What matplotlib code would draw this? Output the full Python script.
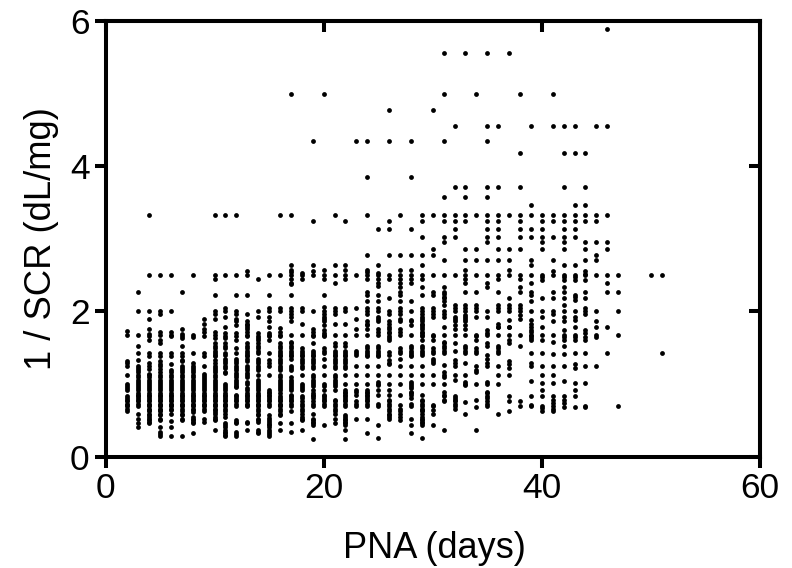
import matplotlib
matplotlib.use('Agg')
import matplotlib.pyplot as plt

plt.rcParams['font.family'] = ['Liberation Sans', 'DejaVu Sans']

# 1/SCR read column by column, one list per day of PNA
d02 = [1.73,1.68,1.32,1.29,1.25,1.12,1.0,.97,.94,.92,.83,.80,.78,.76,.73,.71,.69,.66,.63]
d03 = [2.27,2.0,1.67,1.52,1.43,1.33,1.25,1.22,1.19,1.16,1.12,1.09,1.06,1.03,1.0,.97,.94,.91,.88,.85,.83,.80,.78,.76,.73,.69,.59,.52,.46,.40]
d04 = [2.5,2.0,1.89,1.76,1.69,1.66,1.61,1.43,1.39,1.29,1.25,1.2,1.14,1.12,1.09,1.06,1.03,1.0,.97,.94,.91,.88,.85,.83,.80,.78,.76,.73,.71,.69,.66,.64,.62,.59,.57,.55,.52,.50,.48,.46]
d05 = [2.5,2.0,1.96,1.72,1.67,1.6,1.56,1.43,1.39,1.31,1.27,1.25,1.2,1.17,1.12,1.1,1.05,1.03,1.0,.97,.94,.91,.88,.85,.83,.80,.78,.76,.73,.71,.69,.66,.64,.62,.59,.57,.52,.50,.40,.34,.31,.28]
d06 = [2.5,2.0,1.72,1.68,1.66,1.43,1.38,1.27,1.19,1.16,1.12,1.09,1.06,1.03,1.0,.97,.94,.91,.88,.85,.83,.80,.78,.76,.73,.71,.69,.66,.64,.59,.49,.41,.28]
d07 = [2.27,1.76,1.69,1.66,1.63,1.52,1.43,1.38,1.33,1.31,1.25,1.22,1.19,1.16,1.12,1.09,1.06,1.03,1.0,.97,.94,.91,.87,.85,.83,.80,.78,.76,.73,.71,.69,.66,.62,.59,.57,.52,.50,.28]
d08 = [2.5,1.67,1.64,1.43,1.29,1.25,1.22,1.19,1.16,1.12,1.09,1.06,1.03,1.0,.97,.94,.91,.88,.85,.83,.80,.78,.76,.73,.71,.69,.66,.64,.61,.55,.52,.50,.48,.46,.32]
d09 = [1.9,1.83,1.76,1.72,1.66,1.43,1.38,1.25,1.14,1.11,1.08,1.05,1.02,1.0,.97,.94,.91,.88,.85,.83,.80,.78,.76,.73,.71,.69,.66,.62,.52,.48]
d10 = [2.5,2.44,2.22,2.0,1.96,1.89,1.72,1.68,1.63,1.56,1.52,1.49,1.46,1.43,1.40,1.38,1.33,1.29,1.25,1.22,1.19,1.16,1.12,1.09,1.06,1.03,1.0,.97,.94,.91,.88,.85,.83,.80,.78,.76,.73,.71,.69,.66,.64,.61,.59,.55,.52,.50,.37]
d11 = [2.5,2.04,2.0,1.92,1.79,1.70,1.66,1.63,1.56,1.52,1.49,1.43,1.40,1.35,1.31,1.29,1.25,1.22,1.17,1.15,1.0,.97,.94,.91,.88,.85,.83,.80,.78,.76,.73,.71,.69,.66,.62,.59,.55,.46,.43,.40,.37,.34,.32,.30,.28]
d12 = [2.5,2.22,2.0,1.96,1.89,1.86,1.81,1.70,1.66,1.61,1.49,1.43,1.35,1.31,1.29,1.25,1.22,1.19,1.15,1.12,1.09,1.06,1.03,1.0,.97,.96,.85,.83,.80,.78,.76,.73,.69,.50,.48,.46,.34,.31,.28]
d13 = [2.56,2.5,2.22,1.96,1.86,1.83,1.81,1.78,1.76,1.72,1.68,1.66,1.56,1.52,1.49,1.46,1.43,1.40,1.38,1.35,1.31,1.25,1.22,1.19,1.15,1.12,1.09,1.03,1.0,.94,.91,.88,.85,.83,.80,.78,.76,.73,.71,.69,.48,.46,.37]
d14 = [2.44,2.0,1.92,1.70,1.66,1.63,1.61,1.56,1.52,1.49,1.46,1.43,1.35,1.31,1.29,1.25,1.22,1.19,1.12,1.05,1.03,1.0,.97,.94,.91,.88,.85,.83,.80,.78,.76,.73,.71,.69,.66,.62,.59,.57,.52,.50,.48,.37,.34,.32]
d15 = [2.5,2.22,2.04,2.0,1.92,1.86,1.79,1.70,1.68,1.66,1.61,1.43,1.33,1.29,1.25,1.12,.92,.89,.87,.85,.83,.80,.78,.76,.73,.69,.57,.53,.50,.48,.45,.43,.40,.37,.34,.31,.28]
d16 = [2.5,2.04,2.0,1.77,1.72,1.68,1.66,1.56,1.52,1.49,1.46,1.43,1.40,1.38,1.35,1.31,1.29,1.25,1.22,1.19,1.12,1.10,1.05,1.03,1.0,.97,.94,.91,.87,.83,.80,.78,.76,.73,.71,.69,.66,.62,.59,.57,.46,.37]
d17 = [2.64,2.57,2.54,2.5,2.44,2.39,2.38,2.22,2.04,2.0,1.96,1.92,1.86,1.68,1.58,1.56,1.52,1.49,1.46,1.43,1.40,1.38,1.35,1.25,1.22,1.19,1.10,1.06,1.03,1.0,.97,.94,.92,.85,.83,.80,.78,.76,.73,.69,.62,.46,.34]
d18 = [2.53,2.5,2.44,2.04,2.0,1.82,1.68,1.49,1.46,1.43,1.40,1.38,1.35,1.31,1.29,1.25,1.22,1.12,1.0,.97,.94,.92,.83,.80,.76,.73,.69,.66,.62,.59,.55,.52,.50,.36]
d19 = [2.64,2.55,2.5,2.0,1.76,1.72,1.68,1.66,1.56,1.46,1.43,1.40,1.38,1.35,1.31,1.29,1.25,1.22,1.12,1.09,1.06,1.03,1.0,.97,.92,.88,.85,.83,.80,.76,.73,.69,.59,.52,.50,.48,.46,.43,.235]
d20 = [2.57,2.5,2.44,2.22,2.06,2.0,1.96,1.92,1.89,1.86,1.81,1.74,1.70,1.68,1.66,1.49,1.46,1.43,1.35,1.25,1.12,1.0,.97,.92,.85,.83,.80,.78,.76,.73,.69,.44]
d21 = [2.64,2.5,2.39,2.04,2.0,1.96,1.82,1.68,1.56,1.52,1.46,1.43,1.40,1.38,1.35,1.31,1.29,1.25,1.22,1.12,1.09,1.06,1.03,1.0,.97,.92,.78,.76,.73,.69,.66,.62,.59,.52,.46]
d22 = [2.64,2.57,2.5,2.44,2.04,2.0,1.82,1.68,1.56,1.52,1.46,1.43,1.40,1.38,1.35,1.31,1.29,1.25,1.22,1.12,1.0,.92,.89,.87,.85,.83,.80,.78,.76,.73,.69,.57,.55,.52,.50,.48,.46,.43,.37,.235]
d23 = [2.5,2.04,1.89,1.76,1.68,1.46,1.43,1.40,1.25,1.12,1.0,.92,.89,.85,.76,.73,.69,.52]
d24 = [2.78,2.57,2.54,2.5,2.44,2.27,2.22,2.14,2.04,2.0,1.96,1.86,1.83,1.81,1.76,1.68,1.52,1.49,1.46,1.43,1.40,1.38,1.25,1.12,1.0,.92,.89,.87,.85,.83,.80,.78,.76,.73,.69,.51,.32]
d25 = [2.64,2.53,2.5,2.44,2.39,2.35,2.22,2.14,2.04,2.0,1.92,1.89,1.86,1.75,1.72,1.68,1.52,1.49,1.46,1.43,1.40,1.38,1.25,1.12,1.03,1.0,.99,.92,.85,.73,.69,.43,.26]
d26 = [2.78,2.5,2.44,2.18,2.0,1.96,1.86,1.83,1.79,1.76,1.72,1.70,1.66,1.63,1.61,1.44,1.40,1.33,1.29,1.27,1.12,1.0,.92,.85,.78,.76,.73,.69,.66,.62,.59,.57,.55,.52]
d27 = [2.78,2.57,2.5,2.44,2.39,2.33,2.27,2.22,2.14,2.04,2.0,1.96,1.90,1.86,1.75,1.72,1.68,1.49,1.46,1.43,1.35,1.25,1.12,1.0,.85,.71,.66,.62,.59,.55,.50]
d28 = [2.78,2.57,2.5,2.44,2.39,2.14,2.0,1.88,1.86,1.81,1.68,1.52,1.49,1.46,1.43,1.40,1.38,1.25,1.12,1.03,1.0,.97,.94,.89,.87,.85,.80,.73,.69,.52,.43,.32]
d29 = [2.78,2.64,2.5,2.44,2.33,2.22,2.04,2.0,1.96,1.92,1.89,1.86,1.83,1.81,1.78,1.76,1.72,1.70,1.68,1.66,1.61,1.52,1.49,1.46,1.43,1.40,1.25,1.12,1.0,.85,.78,.76,.73,.69,.66,.64,.62,.59,.55,.52,.50,.48,.46,.43,.26]
d30 = [2.86,2.78,2.5,2.27,2.22,2.04,2.0,1.96,1.92,1.68,1.66,1.61,1.49,1.46,1.43,1.35,1.31,1.29,1.12,1.0,.71,.69,.64,.59,.43]
d31 = [2.95,2.71,2.5,2.33,2.27,2.24,2.2,2.18,2.14,2.09,2.0,1.96,1.92,1.79,1.68,1.58,1.56,1.52,1.49,1.46,1.43,1.26,1.17,1.12,1.10,1.0,.89,.85,.83,.78,.76,.37]
d32 = [2.5,2.09,2.04,2.0,1.92,1.89,1.86,1.81,1.76,1.68,1.56,1.46,1.33,1.29,1.25,1.12,1.05,.83,.80,.78,.76,.73,.69,.66]
d33 = [2.86,2.71,2.57,2.5,2.44,2.39,2.27,2.09,2.04,2.0,1.95,1.92,1.89,1.86,1.81,1.76,1.68,1.52,1.49,1.46,1.43,1.29,1.12,1.03,1.0,.99,.75,.59]
d34 = [2.86,2.71,2.5,2.27,2.09,2.04,2.0,1.92,1.68,1.66,1.61,1.49,1.46,1.43,1.25,1.19,1.17,1.0,.78,.68,.37]
d35 = [2.95,2.71,2.5,2.39,2.33,2.0,1.92,1.74,1.70,1.68,1.56,1.52,1.40,1.35,1.29,1.25,1.03,1.0,.89,.87,.83,.80,.76,.73,.69]
d36 = [2.86,2.71,2.5,2.44,2.27,2.09,2.04,2.0,1.83,1.79,1.78,1.68,1.52,1.49,1.46,1.43,1.25,1.12,1.0,.59]
d37 = [2.86,2.71,2.57,2.5,2.18,2.09,2.04,2.0,1.88,1.79,1.78,1.68,1.61,1.56,1.31,1.27,1.22,1.12,.84,.76,.63]
d38 = [2.86,2.5,2.44,2.33,2.27,2.09,2.04,2.0,1.95,1.9,1.68,1.52,.76,.69]
d39 = [2.71,2.64,2.5,2.39,2.27,2.22,2.14,2.0,1.88,1.83,1.79,1.74,1.72,1.68,1.66,1.63,1.60,1.43,1.29,1.25,1.04,.83,.71,.69]
d40 = [2.95,2.86,2.5,2.47,2.43,2.18,2.0,1.92,1.79,1.68,1.61,1.42,1.25,1.12,1.01,.92,.83,.70,.67,.63]
d41 = [2.71,2.56,2.5,2.27,2.18,2.0,1.97,1.86,1.68,1.58,1.41,1.25,1.12,1.01,.83,.78,.74,.70,.66,.63]
d42 = [2.95,2.86,2.64,2.5,2.47,2.43,2.33,2.27,2.18,2.09,2.0,1.92,1.86,1.74,1.68,1.64,1.61,1.52,1.41,1.25,1.04,.83,.78,.74,.68]
d43 = [2.64,2.5,2.47,2.43,2.23,2.2,2.16,2.0,1.92,1.88,1.79,1.68,1.64,1.61,1.42,1.27,1.22,1.01,.92,.83,.68]
d44 = [2.95,2.86,2.71,2.56,2.52,2.5,2.43,2.27,2.18,2.04,2.0,1.97,1.74,1.70,1.64,1.61,1.42,1.24,1.01,.70,.68]
d45 = [2.95,2.78,2.71,2.5,2.0,1.86,1.79,1.68,1.64,1.25]
d46 = [2.95,2.86,2.5,2.39,2.27,1.79,1.43]
d47 = [2.5,2.27,2.0,1.68,.7]
d50 = [2.5]
d51 = [2.5,1.43]

# upper rows: same level of 1/SCR at several days
row_589 = [46]
row_556 = [31,33,35,37]
row_500 = [17,20,31,34,38,41]
row_477 = [26,30]
row_456 = [32,35,36,39,41,42,43,45,46]
row_435 = [19,23,24,26,28,31,35]
row_418 = [38,42,43,44]
row_385 = [24,28]
row_371 = [32,33,35,36,38,42,44]
row_357 = [31,33,35]
row_346 = [39,43,44]
row_333 = [4,10,11,12,16,17,21,24,27,29,30,31,32,33,34,35,36,37,38,39,40,41,42,43,44,45,46]
row_324 = [19,22,26,29,31,32,33,35,36,38,40,41,42,43,44,45]
row_314 = [25,26,28,32,35,36,38,39,40,42,43]
row_303 = [29,31,32,35,36,38,39,40,41,42,43]

columns = {2:d02,3:d03,4:d04,5:d05,6:d06,7:d07,8:d08,9:d09,10:d10,11:d11,12:d12,13:d13,14:d14,
           15:d15,16:d16,17:d17,18:d18,19:d19,20:d20,21:d21,22:d22,23:d23,24:d24,25:d25,26:d26,
           27:d27,28:d28,29:d29,30:d30,31:d31,32:d32,33:d33,34:d34,35:d35,36:d36,37:d37,38:d38,
           39:d39,40:d40,41:d41,42:d42,43:d43,44:d44,45:d45,46:d46,47:d47,50:d50,51:d51}
rows = {5.89:row_589,5.56:row_556,5.0:row_500,4.77:row_477,4.56:row_456,4.35:row_435,4.18:row_418,
        3.85:row_385,3.71:row_371,3.57:row_357,3.46:row_346,3.33:row_333,3.24:row_324,3.14:row_314,
        3.03:row_303}

x = []
y = []
for day in columns:
    for v in columns[day]:
        x.append(day)
        y.append(v)
for level in rows:
    for day in rows[level]:
        x.append(day)
        y.append(level)

fig = plt.figure(figsize=(7.92, 5.68), dpi=100)
ax = fig.add_axes([105.5/792, (568-456.5)/568, (760-105.5)/792, (456.5-21)/568])
ax.scatter(x, y, s=12, c='k', marker='o', linewidths=0, clip_on=False, zorder=3)
ax.set_xlim(0, 60)
ax.set_ylim(0, 6)
ax.set_xticks([0, 20, 40, 60])
ax.set_yticks([0, 2, 4, 6])
ax.tick_params(length=8, width=2.9, labelsize=25.5, pad=3.5)
for s in ax.spines.values():
    s.set_linewidth(2.9)

# mirrored ticks on top and right point inward
top = ax.secondary_xaxis('top')
top.set_xticks([0, 20, 40, 60])
top.tick_params(direction='in', length=8, width=2.9, labeltop=False)
right = ax.secondary_yaxis('right')
right.set_yticks([0, 2, 4, 6])
right.tick_params(direction='in', length=8, width=2.9, labelright=False)
top.spines['top'].set_linewidth(2.9)
right.spines['right'].set_linewidth(2.9)

ax.set_xlabel('PNA (days)', fontsize=26, labelpad=18.5, x=0.503)
ax.set_ylabel('1 / SCR (dL/mg)', fontsize=26.2, labelpad=7.5)
fig.savefig('out.png', dpi=100)
